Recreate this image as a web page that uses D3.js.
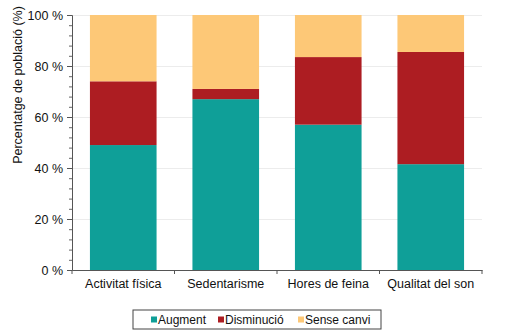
<!DOCTYPE html>
<html>
<head>
<meta charset="utf-8">
<script src="https://cdn.jsdelivr.net/npm/d3@7"></script>
<style>
  html, body { margin: 0; padding: 0; background: #fff; }
  svg { display: block; font-family: "Liberation Sans", Arial, sans-serif; }
</style>
</head>
<body>
<svg id="chart" width="513" height="336"></svg>
<script>
// Share of population (%) by change type, per habit
const categories = ["Activitat física", "Sedentarisme", "Hores de feina", "Qualitat del son"];
const augment    = [49, 67, 57, 41.5];
const disminucio = [25, 4, 26.5, 44];
const senseCanvi = [26, 29, 16.5, 14.5];
const seriesNames = ["Augment", "Disminució", "Sense canvi"];
const seriesColors = ["#0f9f98", "#ad1d22", "#fdc877"];
const yTicks = [0, 20, 40, 60, 80, 100];
const yTitle = "Percentatge de població (%)";

const svg = d3.select("#chart");
const margin = { left: 72, right: 31, top: 15, bottom: 66 };
const W = 513, H = 336;
const iw = W - margin.left - margin.right;
const ih = H - margin.top - margin.bottom;

const rows = categories.map((c, i) => ({
  cat: c, "Augment": augment[i], "Disminució": disminucio[i], "Sense canvi": senseCanvi[i]
}));
const stacked = d3.stack().keys(seriesNames)(rows);

const x = d3.scaleBand().domain(categories).range([0, iw]).paddingInner(0.35).paddingOuter(0.175);
const y = d3.scaleLinear().domain([0, 100]).range([ih, 0]);

const g = svg.append("g").attr("transform", `translate(${margin.left},${margin.top})`);

// faint horizontal gridlines
g.append("g").selectAll("line").data(yTicks.filter(t => t > 0)).join("line")
  .attr("x1", 0).attr("x2", iw)
  .attr("y1", d => y(d) + 0.5).attr("y2", d => y(d) + 0.5)
  .attr("stroke", "#ececec").attr("stroke-width", 1);

// stacked bars
g.append("g").selectAll("g").data(stacked).join("g")
  .attr("fill", (d, i) => seriesColors[i])
  .selectAll("rect").data(d => d).join("rect")
  .attr("x", d => x(d.data.cat))
  .attr("width", x.bandwidth())
  .attr("y", d => y(d[1]))
  .attr("height", d => y(d[0]) - y(d[1]));

// y axis: minor ticks then major ticks with labels
const minor = d3.range(0, 101, 4).filter(v => !yTicks.includes(v));
g.append("g").attr("class", "minor")
  .call(d3.axisLeft(y).tickValues(minor).tickSize(3).tickFormat(""))
  .call(a => a.select(".domain").remove())
  .selectAll("line").attr("stroke", "#666");

const yAxis = g.append("g")
  .call(d3.axisLeft(y).tickValues(yTicks).tickSize(5).tickPadding(4).tickFormat(d => d + " %"));
yAxis.select(".domain").attr("stroke", "#555");
yAxis.selectAll("line").attr("stroke", "#555");
yAxis.selectAll("text").attr("fill", "#111").style("font-size", "12.5px");

// x axis
const xAxis = g.append("g").attr("transform", `translate(0,${ih})`)
  .call(d3.axisBottom(x).tickSize(0).tickPadding(9));
xAxis.select(".domain").attr("stroke", "#555");
xAxis.selectAll("text").attr("fill", "#111").style("font-size", "12.5px");
// boundary ticks between categories
g.append("g").selectAll("line").data(d3.range(categories.length + 1)).join("line")
  .attr("x1", i => i * iw / categories.length).attr("x2", i => i * iw / categories.length)
  .attr("y1", ih).attr("y2", ih + 4)
  .attr("stroke", "#555");

// y axis title
svg.append("text")
  .attr("transform", "translate(22,85) rotate(-90)")
  .attr("text-anchor", "middle")
  .attr("fill", "#111")
  .style("font-size", "12.5px")
  .text(yTitle);

// legend
const lg = svg.append("g").attr("transform", "translate(133,310)");
lg.append("rect").attr("width", 248).attr("height", 19)
  .attr("fill", "#fff").attr("stroke", "#444").attr("stroke-width", 1);
const itemX = [18, 85, 165];
seriesNames.forEach((n, i) => {
  lg.append("rect").attr("x", itemX[i]).attr("y", 6.5).attr("width", 6).attr("height", 6).attr("fill", seriesColors[i]);
  lg.append("text").attr("x", itemX[i] + 7).attr("y", 14).attr("fill", "#111")
    .style("font-size", "12px").text(n);
});
</script>
</body>
</html>
